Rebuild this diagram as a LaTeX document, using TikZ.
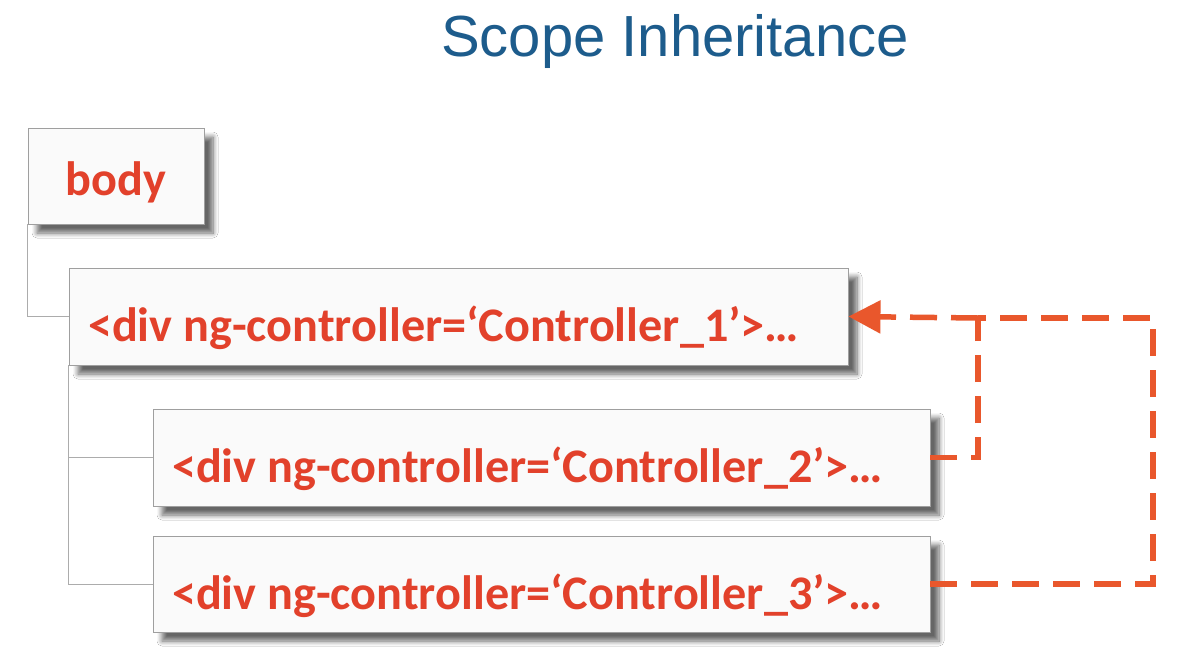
\documentclass[tikz,border=0pt]{standalone}
\usepackage{fontspec}
\setmainfont{Carlito}
\newfontfamily\titlefont{Liberation Sans}
\usetikzlibrary{shadows.blur,arrows.meta}
\definecolor{txtred}{HTML}{E2412B}
\definecolor{dashor}{HTML}{E9572C}
\definecolor{ttlblue}{HTML}{1D5C8C}
\definecolor{boxfill}{HTML}{FAFAFA}
\newcommand{\lbx}[2]{\makebox[#1][l]{#2}}
\tikzset{
  elbox/.style={draw=gray!75, line width=0.9pt, fill=boxfill, blur shadow={shadow xshift=9pt, shadow yshift=-9pt, shadow blur steps=8, shadow opacity=60, shadow blur radius=5pt},
    font=\fontsize{48.2}{50}\selectfont\bfseries, text=txtred, inner ysep=0pt, text depth=0pt},
  codebox/.style={elbox, inner xsep=19pt, minimum height=97pt, text height=50pt},
  treeline/.style={draw=gray!65, line width=1pt},
  dashline/.style={draw=dashor, line width=5.5pt, dash pattern=on 27pt off 14pt},
}
\begin{document}
\begin{tikzpicture}[x=1pt,y=-1pt]
\useasboundingbox (0,0) rectangle (1197,654);
\fill[white] (0,0) rectangle (1197,654);
\node[font=\titlefont\fontsize{58}{60}\selectfont, text=ttlblue] (title) at (675,42) {Scope Inheritance};
\node[elbox, minimum width=176pt, minimum height=96pt, inner xsep=0pt, text height=38pt] (body) at (116,176) {body};
\node[codebox] (c1) at (458.5,316.5) {\lbx{741pt}{<div ng-controller=‘Controller\_1’>…}};
\node[codebox] (c2) at (541.5,457.5) {\lbx{739pt}{<div ng-controller=‘Controller\_2’>…}};
\node[codebox, minimum height=96pt] (c3) at (541.5,584) {\lbx{739pt}{<div ng-controller=‘Controller\_3’>…}};
\draw[treeline] (body.south west) |- (c1.west);
\draw[treeline] (c1.south west) |- (c3.west);
\draw[treeline] (c1.south west |- c2.west) -- (c2.west);
\coordinate (k1) at (978,318);
\coordinate (k2) at (1153,318);
\draw[dashline] (c2.east) -| (k1);
\draw[dashline] (c3.east) -| (k2) -- (k1);
\draw[dashline, -{Triangle[length=32pt,width=32pt]}] (k1) -- (c1.east);
\end{tikzpicture}
\end{document}
